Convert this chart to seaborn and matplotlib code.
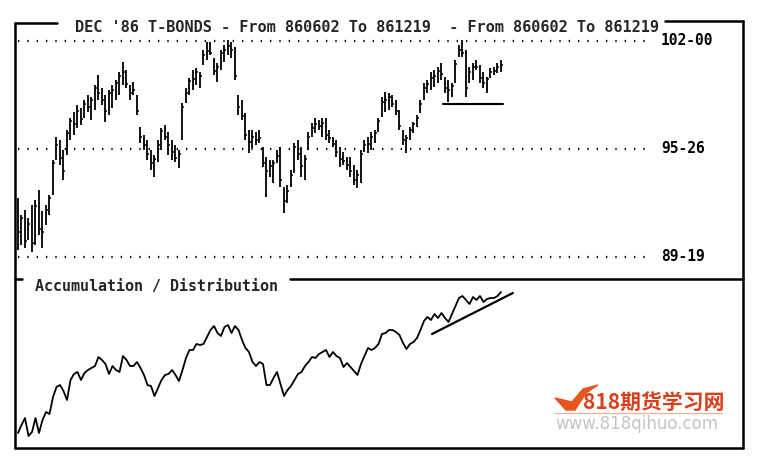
import numpy as np
import pandas as pd
import matplotlib.pyplot as plt
import seaborn as sns
from matplotlib.lines import Line2D
from matplotlib.patches import Polygon

# --- data (daily bars, 860602 - 861219) ---
highs = [93.0, 92.0, 92.3, 91.8, 92.6, 92.85, 93.45, 92.2, 92.6, 93.15,
         95.15, 96.5, 96.3, 95.75, 96.9, 97.6, 97.9, 98.3, 98.15, 98.6,
         98.9, 98.8, 99.45, 100.05, 99.3, 98.9, 99.2, 99.45, 99.75, 100.2,
         100.8, 100.35, 99.45, 99.65, 98.9, 97.05, 96.6, 96.3, 95.75, 95.45,
         96.3, 97.0, 97.15, 96.75, 96.3, 96.0, 95.75, 98.45, 99.3, 99.85,
         100.35, 100.45, 100.2, 101.5, 101.95, 101.95, 101.0, 100.75, 101.5, 101.75,
         102.05, 101.95, 101.65, 98.9, 98.6, 97.85, 96.9, 96.9, 96.75, 96.9,
         95.9, 95.35, 95.15, 95.15, 95.75, 95.9, 93.6, 93.7, 94.6, 96.15,
         96.3, 95.9, 95.45, 96.75, 97.3, 97.6, 97.45, 97.55, 97.6, 96.9,
         96.5, 96.3, 95.9, 95.6, 95.35, 95.35, 94.9, 94.6, 95.75, 96.3,
         96.5, 96.75, 96.9, 97.55, 98.8, 99.05, 99.0, 98.9, 98.6, 98.05,
         96.9, 96.6, 97.05, 97.35, 97.75, 98.6, 99.6, 99.75, 100.2, 100.35,
         100.5, 100.75, 99.95, 99.75, 99.6, 100.9, 101.75, 102.05, 101.5, 100.5,
         100.75, 100.9, 100.6, 100.2, 99.95, 100.45, 100.5, 100.75, 100.9]
lows = [90.0, 90.3, 90.1, 90.55, 89.9, 90.3, 90.85, 90.1, 91.4, 92.0,
        93.15, 95.15, 94.9, 94.0, 95.45, 96.3, 96.6, 97.0, 97.15, 97.6,
        97.9, 97.45, 98.05, 98.6, 98.3, 97.35, 97.75, 98.15, 98.6, 98.9,
        99.45, 99.3, 98.6, 98.9, 97.75, 96.15, 95.75, 95.15, 94.6, 94.2,
        95.05, 95.75, 96.3, 95.45, 95.15, 95.05, 94.7, 96.3, 98.45, 98.9,
        99.2, 99.45, 99.3, 100.6, 100.9, 101.2, 100.05, 99.65, 100.35, 100.8,
        101.2, 101.0, 99.75, 97.75, 97.45, 96.3, 95.55, 95.85, 96.0, 96.15,
        94.75, 93.05, 94.2, 93.85, 95.0, 93.6, 92.1, 92.7, 93.6, 94.4,
        95.15, 94.2, 94.0, 95.75, 96.5, 96.7, 96.9, 96.5, 96.3, 96.15,
        95.9, 95.35, 94.75, 94.85, 94.6, 94.2, 93.7, 93.55, 93.85, 95.6,
        95.55, 95.75, 96.15, 96.75, 97.65, 97.9, 98.05, 98.2, 97.75, 96.9,
        96.0, 95.55, 96.3, 96.7, 97.05, 97.85, 98.6, 99.0, 99.2, 99.35,
        99.6, 99.75, 99.0, 98.5, 98.8, 99.6, 101.05, 101.05, 98.8, 99.6,
        99.75, 100.35, 99.6, 99.3, 99.0, 99.85, 100.05, 100.15, 100.2]
closes = [91.0, 91.8, 90.5, 91.5, 90.4, 92.5, 91.2, 91.0, 92.3, 93.0,
          95.0, 96.0, 95.3, 94.5, 96.7, 97.4, 97.2, 98.0, 97.5, 98.4,
          98.2, 98.6, 99.3, 99.0, 98.6, 98.0, 99.0, 99.2, 99.6, 100.0,
          100.2, 99.5, 99.0, 99.2, 98.0, 96.5, 96.0, 95.5, 95.0, 95.2,
          96.0, 96.8, 96.5, 96.0, 95.6, 95.3, 95.5, 98.2, 99.0, 99.7,
          99.8, 100.2, 100.0, 101.2, 101.4, 101.3, 100.3, 100.5, 101.3, 101.5,
          101.7, 101.5, 100.0, 98.2, 97.7, 96.6, 96.2, 96.5, 96.3, 96.4,
          95.0, 94.5, 94.8, 95.0, 95.4, 94.0, 92.8, 93.4, 94.3, 95.9,
          95.5, 94.8, 95.2, 96.5, 97.0, 97.2, 97.1, 97.3, 96.6, 96.4,
          96.1, 95.6, 95.2, 95.1, 94.9, 94.5, 94.0, 94.3, 95.5, 96.0,
          96.1, 96.5, 96.7, 97.4, 98.5, 98.6, 98.8, 98.4, 98.0, 97.1,
          96.3, 96.4, 96.9, 97.2, 97.6, 98.4, 99.3, 99.5, 99.9, 100.0,
          100.3, 100.1, 99.3, 99.2, 99.4, 100.7, 101.5, 101.3, 99.3, 100.2,
          100.5, 100.5, 99.9, 99.6, 99.8, 100.2, 100.3, 100.5, 100.6]
accum_dist = [17, 25, 32, 14, 18, 32, 17, 30, 38, 36,
              53, 63, 65, 59, 50, 70, 76, 78, 70, 77,
              80, 82, 84, 93, 90, 86, 76, 84, 80, 78,
              94, 90, 84, 84, 88, 82, 75, 65, 64, 54,
              62, 70, 75, 76, 80, 75, 69, 80, 92, 100,
              100, 106, 105, 106, 113, 120, 124, 117, 114, 123,
              125, 117, 124, 120, 110, 102, 98, 88, 84, 88,
              86, 65, 65, 72, 78, 66, 54, 60, 64, 70,
              76, 78, 84, 88, 93, 92, 96, 98, 100, 93,
              98, 94, 92, 83, 87, 83, 79, 75, 86, 94,
              102, 100, 102, 106, 116, 117, 120, 120, 118, 115,
              107, 101, 106, 108, 112, 120, 129, 133, 130, 136,
              132, 137, 132, 128, 136, 144, 152, 154, 150, 146,
              153, 150, 154, 148, 151, 152, 152, 154, 158]

levels = [102.0, 95 + 26 / 32, 89 + 19 / 32]
level_labels = ["102-00", "95-26", "89-19"]

# hand-drawn support line (price) and trend line (A/D)
support_x = [121.4, 138.6]
support_y = [98.38, 98.38]
trend_x = [118.3, 141.4]
trend_y = [116, 157]

title = "DEC '86 T-BONDS - From 860602 To 861219  - From 860602 To 861219"

df = pd.DataFrame({"day": np.arange(len(highs)), "high": highs, "low": lows,
                   "close": closes, "ad": accum_dist})

sns.set_theme(style="white")
plt.rcParams['font.family'] = ['DejaVu Sans Mono', 'DejaVu Sans']

W, H = 758, 461
fig = plt.figure(figsize=(W / 100, H / 100), dpi=100)
fig.patch.set_facecolor("white")


def fx(px):
    return px / W


def fy(py):
    return 1 - py / H


XLIM = (-0.857, 206.86)

# --- price panel ---
ax1 = fig.add_axes([fx(15), fy(279), (742 - 15) / W, (279 - 22) / H])
ax1.vlines(df["day"], df["low"], df["high"], color="black", linewidth=1.3)
ax1.hlines(df["close"], df["day"], df["day"] + 0.5, color="black", linewidth=1.1)
for lv, lab in zip(levels, level_labels):
    ax1.hlines(lv, 0, 180.6, color="black", linewidth=1.6, linestyles=(0, (0.6, 3.6)))
    ax1.text(183.7, lv, lab, fontsize=10.5, fontweight="bold", va="center", ha="left",
             color="black")
ax1.plot(support_x, support_y, color="black", linewidth=1.5)
ax1.set_xlim(*XLIM)
ax1.set_ylim(88.32, 103.09)
ax1.axis("off")

# --- accumulation / distribution panel ---
ax2 = fig.add_axes([fx(15), fy(448), (742 - 15) / W, (448 - 279) / H])
sns.lineplot(data=df, x="day", y="ad", ax=ax2, color="black", linewidth=1.3)
ax2.plot(trend_x, trend_y, color="black", linewidth=1.6)
ax2.set_xlim(*XLIM)
ax2.set_ylim(2, 171)
ax2.axis("off")

# --- frame and headings ---
def fline(xs, ys, lw=1.8):
    fig.add_artist(Line2D([fx(x) for x in xs], [fy(y) for y in ys], color="black",
                          linewidth=lw, transform=fig.transFigure))


fline([15, 57], [23, 23])
fline([665, 743], [21, 21])
fline([15, 15], [23, 448])
fline([743, 743], [21, 448])
fline([15, 743], [448, 448])
fline([15, 22], [279, 279])
fline([290, 743], [279, 279])

fig.text(fx(75), fy(27), title, fontsize=11, fontweight="bold", ha="left", va="center")
fig.text(fx(35), fy(286), "Accumulation / Distribution", fontsize=10.8,
         fontweight="bold", ha="left", va="center")

# --- watermark ---
fig.add_artist(Polygon([(fx(555), fy(398)), (fx(566), fy(410)), (fx(575), fy(410)),
                        (fx(586), fy(393)), (fx(598), fy(385)), (fx(583), fy(389)),
                        (fx(572), fy(402))], closed=True, color="#e8551e",
                       transform=fig.transFigure))
fig.text(fx(583), fy(402), "818期货学习网", fontsize=15, fontweight="bold",
         color="#d8401c", ha="left", va="center",
         family=['Noto Sans CJK SC', 'DejaVu Sans'])
fline([555, 722], [413, 413], lw=0.8)
fig.artists[-1].set_color("#f0b090")
fig.text(fx(555), fy(424), "www.818qihuo.com", fontsize=12, color="#c4c4c4",
         ha="left", va="center", family=['DejaVu Sans'])

plt.savefig("out.png", dpi=100)
